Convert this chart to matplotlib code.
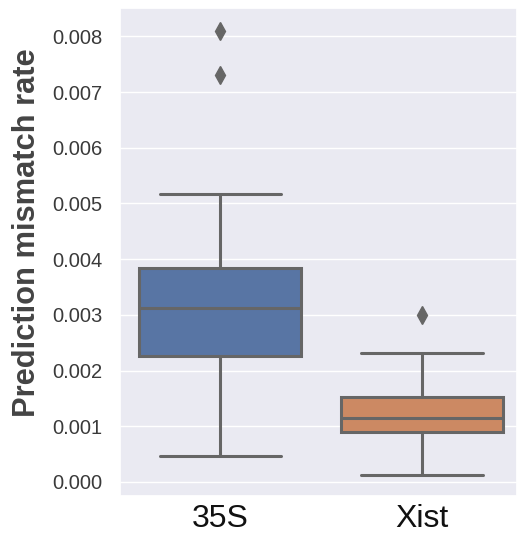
import matplotlib
matplotlib.use("Agg")
import matplotlib.pyplot as plt
import seaborn as sns

# values
groups = ["35S", "Xist"]
q1 = [0.00226, 0.00089]
med = [0.00312, 0.00114]
q3 = [0.00385, 0.00153]
whislo = [0.00046, 0.00012]
whishi = [0.00517, 0.00232]
fliers = [[0.00731, 0.00809], [0.00299]]
colors = ["#5875a4", "#cc8963"]

sns.set_theme(style="darkgrid")
plt.rcParams['font.family'] = ['Liberation Sans', 'DejaVu Sans']

stats = []
for i, g in enumerate(groups):
    stats.append(dict(label=g, q1=q1[i], med=med[i], q3=q3[i],
                      whislo=whislo[i], whishi=whishi[i], fliers=fliers[i]))

fig = plt.figure(figsize=(5.18, 5.36), dpi=100)
ax = fig.add_axes([0.232, 0.075, 0.766, 0.91])

gray = "#666666"
bp = ax.bxp(stats, positions=range(len(groups)), widths=0.8, patch_artist=True,
            boxprops=dict(edgecolor=gray, linewidth=2.2),
            medianprops=dict(color=gray, linewidth=2.2),
            whiskerprops=dict(color=gray, linewidth=2.2),
            capprops=dict(color=gray, linewidth=2.2),
            flierprops=dict(marker="d", markerfacecolor=gray, markeredgecolor=gray,
                            markersize=9))
for patch, c in zip(bp["boxes"], colors):
    patch.set_facecolor(c)
for cap in bp["caps"]:
    x = cap.get_xdata()
    mid = x.mean()
    cap.set_xdata([mid - 0.3, mid + 0.3])

ax.set_xlim(-0.495, 1.47)
ax.set_ylim(-0.00025, 0.00851)
ax.set_yticks([0, 0.001, 0.002, 0.003, 0.004, 0.005, 0.006, 0.007, 0.008])
ax.set_yticklabels(["%.3f" % v for v in ax.get_yticks()], fontsize=14.5, color="#3a3a3a")
ax.set_xticks(range(len(groups)))
ax.set_xticklabels(groups, fontsize=23, color="#111111")
ax.tick_params(axis="y", pad=7)
ax.tick_params(axis="x", pad=0)
ax.set_ylabel("Prediction mismatch rate", fontsize=22.2, fontweight="bold",
              color="#444444")
ax.yaxis.set_label_coords(-0.197, 0.539)
ax.grid(axis="x", visible=False)

fig.savefig("out.png", dpi=100)
